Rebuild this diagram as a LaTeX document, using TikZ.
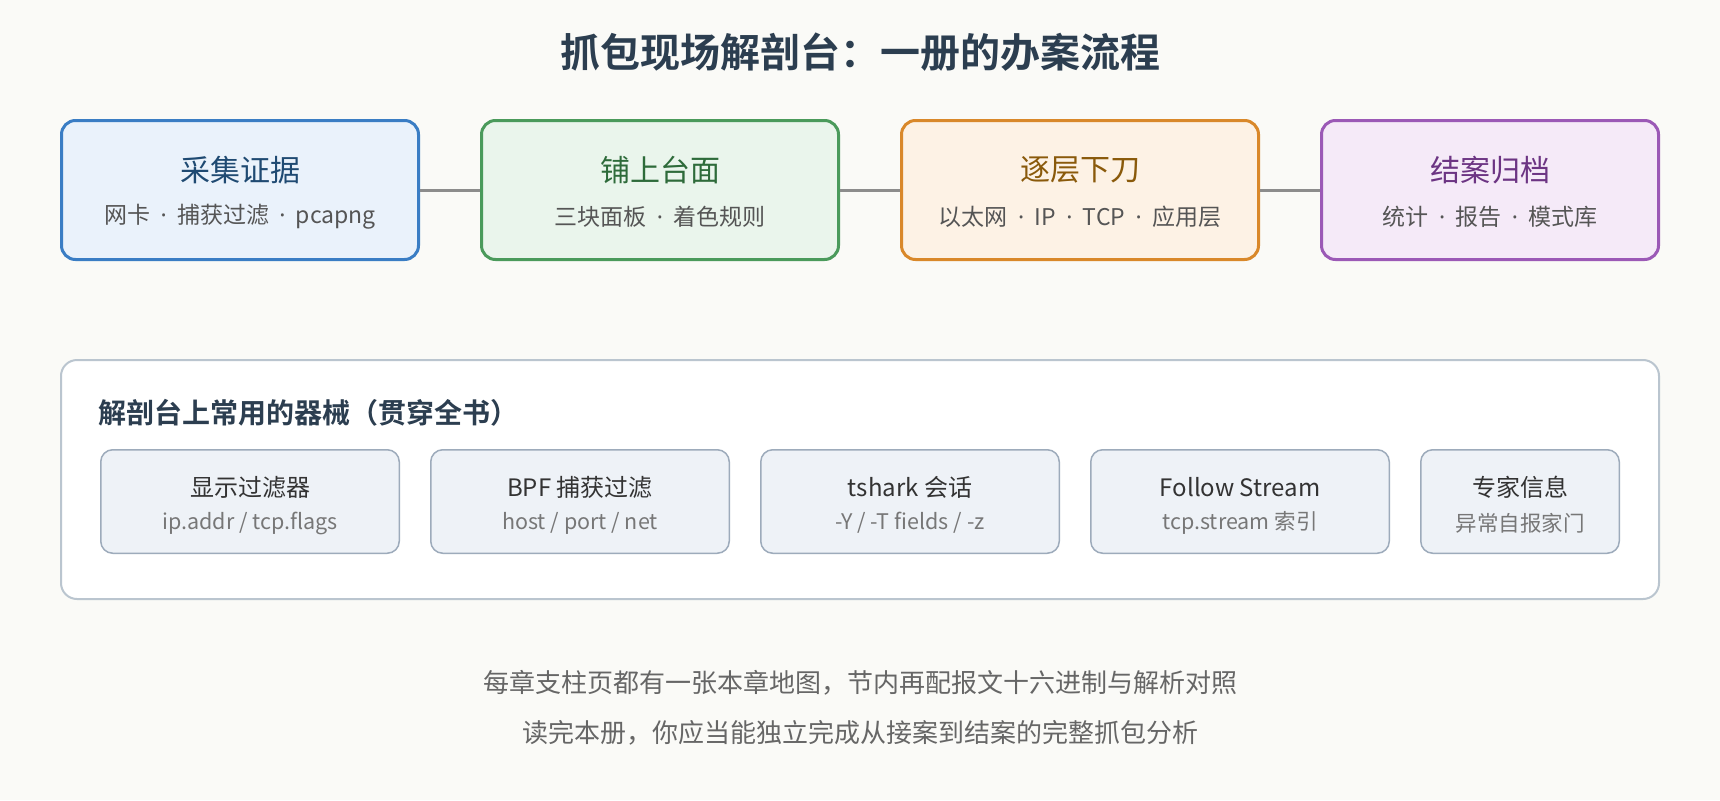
\documentclass[tikz,border=0pt]{standalone}
\usepackage{fontspec}
\setmainfont{Noto Sans CJK SC}[BoldFont={Noto Sans CJK SC Bold}]
\newfontfamily\dotfont{Noto Sans}
\newcommand{\mdot}{{\dotfont\hspace{0.45em}·\hspace{0.45em}}}
\usetikzlibrary{positioning}

\definecolor{bgpaper}{HTML}{FAFAF7}
\definecolor{inkdark}{HTML}{2C3E50}
\definecolor{bluedraw}{HTML}{3A7DC4}
\definecolor{bluefill}{HTML}{EAF2FB}
\definecolor{bluetext}{HTML}{1F4A72}
\definecolor{greendraw}{HTML}{4A9A5B}
\definecolor{greenfill}{HTML}{EAF5EC}
\definecolor{greentext}{HTML}{2E6B3A}
\definecolor{orangedraw}{HTML}{D9882A}
\definecolor{orangefill}{HTML}{FDF2E5}
\definecolor{orangetext}{HTML}{8A5A0B}
\definecolor{purpledraw}{HTML}{9B59B6}
\definecolor{purplefill}{HTML}{F5EAF8}
\definecolor{purpletext}{HTML}{6C3483}
\definecolor{linkgrey}{HTML}{8C8C8C}
\definecolor{paneldraw}{HTML}{BAC5CF}
\definecolor{tooldraw}{HTML}{9DABBB}
\definecolor{toolfill}{HTML}{EEF2F7}
\definecolor{tooltext}{HTML}{333333}
\definecolor{toolgrey}{HTML}{777777}
\definecolor{subgrey}{HTML}{555555}
\definecolor{footgrey}{HTML}{666666}

\begin{document}
\begin{tikzpicture}[
  x=1pt, y=-1pt,
  % STYLES
  stage/.style={draw, line width=3pt, rounded corners=14pt,
    minimum width=357pt, minimum height=139pt, inner sep=0pt},
  tool/.style={draw=tooldraw, fill=toolfill, line width=1.5pt, rounded corners=12pt,
    minimum width=298.5pt, minimum height=103.5pt, inner sep=0pt},
  % TEXTS
  stitle/.style={inner sep=0pt, font=\fontsize{30}{36}\selectfont},
  ssub/.style={inner sep=0pt, text=subgrey, font=\fontsize{23}{27}\selectfont},
  ttitle/.style={inner sep=0pt, text=tooltext, font=\fontsize{24}{29}\selectfont},
  tsub/.style={inner sep=0pt, text=toolgrey, font=\fontsize{21.5}{26}\selectfont},
  note/.style={inner sep=0pt, text=footgrey, font=\fontsize{26}{31}\selectfont},
  link/.style={draw=linkgrey, line width=3pt}]

  \fill[bgpaper] (0,0) rectangle (1720,800);
  \useasboundingbox (0,0) rectangle (1720,800);

  \node[inner sep=0pt, text=inkdark, font=\bfseries\fontsize{40}{46}\selectfont] (title) at (860,52)
    {抓包现场解剖台：一册的办案流程};

  % the four stages
  \node[stage, draw=bluedraw, fill=bluefill] (collect) at (240,190) {};
  \node[stage, draw=greendraw, fill=greenfill] [right=60pt of collect] (table) {};
  \node[stage, draw=orangedraw, fill=orangefill] [right=60pt of table] (layers) {};
  \node[stage, draw=purpledraw, fill=purplefill, minimum width=337pt] [right=60pt of layers] (archive) {};

  \node[stitle, text=bluetext] (collect-t) at ([yshift=20pt]collect.center) {采集证据};
  \node[ssub] (collect-s) at ([yshift=-27pt]collect.center) {网卡\mdot 捕获过滤\mdot pcapng};
  \node[stitle, text=greentext] (table-t) at ([yshift=20pt]table.center) {铺上台面};
  \node[ssub] (table-s) at ([yshift=-27pt]table.center) {三块面板\mdot 着色规则};
  \node[stitle, text=orangetext] (layers-t) at ([yshift=20pt]layers.center) {逐层下刀};
  \node[ssub] (layers-s) at ([yshift=-27pt]layers.center) {以太网\mdot IP\mdot TCP\mdot 应用层};
  \node[stitle, text=purpletext] (archive-t) at ([yshift=20pt]archive.center) {结案归档};
  \node[ssub] (archive-s) at ([yshift=-27pt]archive.center) {统计\mdot 报告\mdot 模式库};

  \path[link]
    (collect) edge (table)
    (table) edge (layers)
    (layers) edge (archive);

  % the instruments panel
  \node[draw=paneldraw, fill=white, line width=2pt, rounded corners=16pt,
    minimum width=1598pt, minimum height=239pt] (kit) at (860,479.5) {};
  \node[anchor=west, inner sep=0pt, text=inkdark, font=\bfseries\fontsize{28}{33}\selectfont]
    (kit-head) at (98,413) {解剖台上常用的器械（贯穿全书）};

  \node[tool] (dfilter) at (250,501.5) {};
  \node[tool] [right=30pt of dfilter] (bpf) {};
  \node[tool] [right=30pt of bpf] (tshark) {};
  \node[tool] [right=30pt of tshark] (follow) {};
  \node[tool, minimum width=198.5pt] [right=30pt of follow] (expert) {};

  \node[ttitle] (dfilter-t) at ([yshift=14.5pt]dfilter.center) {显示过滤器};
  \node[tsub] (dfilter-s) at ([yshift=-21.5pt]dfilter.center) {ip.addr / tcp.flags};
  \node[ttitle] (bpf-t) at ([yshift=14.5pt]bpf.center) {BPF 捕获过滤};
  \node[tsub] (bpf-s) at ([yshift=-21.5pt]bpf.center) {host / port / net};
  \node[ttitle] (tshark-t) at ([yshift=14.5pt]tshark.center) {tshark 会话};
  \node[tsub] (tshark-s) at ([yshift=-21.5pt]tshark.center) {-Y / -T fields / -z};
  \node[ttitle] (follow-t) at ([yshift=14.5pt]follow.center) {Follow Stream};
  \node[tsub] (follow-s) at ([yshift=-21.5pt]follow.center) {tcp.stream 索引};
  \node[ttitle] (expert-t) at ([yshift=14.5pt]expert.center) {专家信息};
  \node[tsub] (expert-s) at ([yshift=-21.5pt]expert.center) {异常自报家门};

  % closing notes
  \node[note] (note-a) at (860,683) {每章支柱页都有一张本章地图，节内再配报文十六进制与解析对照};
  \node[note] (note-b) at (860,733) {读完本册，你应当能独立完成从接案到结案的完整抓包分析};
\end{tikzpicture}
\end{document}
